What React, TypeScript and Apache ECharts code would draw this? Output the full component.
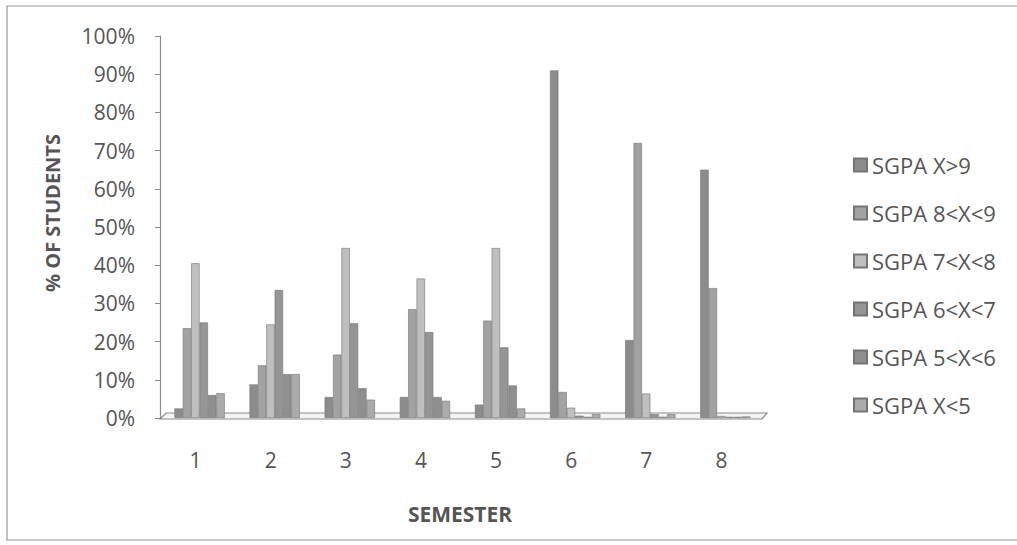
import React, { useEffect, useRef } from "react";
import * as echarts from "echarts";

const semesters = ["1", "2", "3", "4", "5", "6", "7", "8"];
const seriesNames = ["SGPA X>9", "SGPA 8<X<9", "SGPA 7<X<8", "SGPA 6<X<7", "SGPA 5<X<6", "SGPA X<5"];
const sgpaAbove9 = [2.5, 8.8, 5.5, 5.5, 3.5, 91, 20.4, 65];
const sgpa8to9 = [23.5, 13.8, 16.6, 28.5, 25.5, 6.8, 72, 34];
const sgpa7to8 = [40.5, 24.5, 44.5, 36.5, 44.5, 2.7, 6.4, 0.5];
const sgpa6to7 = [25, 33.5, 24.8, 22.5, 18.5, 0.6, 1.0, 0.3];
const sgpa5to6 = [6, 11.5, 7.8, 5.5, 8.5, 0.3, 0.3, 0.3];
const sgpaBelow5 = [6.5, 11.5, 4.8, 4.5, 2.5, 1.0, 1.0, 0.4];
const seriesColors = ["#8c8c8c", "#a2a2a2", "#bfbfbf", "#959595", "#8f8f8f", "#ababab"];

const allSeries = [sgpaAbove9, sgpa8to9, sgpa7to8, sgpa6to7, sgpa5to6, sgpaBelow5];

export default function App() {
  const ref = useRef<HTMLDivElement>(null);
  useEffect(() => {
    if (!ref.current) return;
    const chart = echarts.init(ref.current, null, { renderer: "svg" });
    const font = "'Open Sans', 'Noto Sans', sans-serif";
    chart.setOption({
      animation: false,
      backgroundColor: "#ffffff",
      textStyle: { fontFamily: font },
      grid: { left: 162, width: 601, top: 36, bottom: 127 },
      legend: {
        orient: "vertical",
        left: 848,
        top: 149,
        icon: "rect",
        itemWidth: 13,
        itemHeight: 13,
        itemGap: 26,
        data: seriesNames,
        textStyle: { fontSize: 22, lineHeight: 22, color: "#555", fontFamily: font },
      },
      xAxis: {
        type: "category",
        data: semesters,
        axisLine: { show: false },
        axisTick: { show: false },
        axisLabel: { fontSize: 21, color: "#555", margin: 31, padding: [0, 8, 0, 0], fontFamily: font },
      },
      yAxis: {
        type: "value",
        min: 0,
        max: 100,
        interval: 10,
        offset: 2,
        axisLine: { show: true, lineStyle: { color: "#8a8a8a", width: 1.2 } },
        axisTick: { show: true, length: 5, lineStyle: { color: "#8a8a8a" } },
        splitLine: { show: false },
        axisLabel: { fontSize: 21, color: "#555", margin: 25, formatter: "{value}%", fontFamily: font },
      },
      graphic: {
        elements: [
          {
            type: "rect",
            z: -10,
            shape: { x: 7, y: 6, width: 1100, height: 534 },
            style: { fill: "none", stroke: "#9a9a9a", lineWidth: 1.2 },
          },
          {
            type: "polygon",
            z: 0,
            shape: { points: [[160, 419], [762, 419], [767, 413], [166, 413]] },
            style: { fill: "#f4f4f4", stroke: "#8a8a8a", lineWidth: 1.2 },
          },
          {
            type: "text",
            x: 52,
            y: 213,
            rotation: Math.PI / 2,
            style: {
              text: "% OF STUDENTS",
              fontSize: 20,
              fontWeight: "bold",
              fill: "#555",
              align: "center",
              verticalAlign: "middle",
              fontFamily: font,
            },
          },
          {
            type: "text",
            x: 460,
            y: 514,
            style: {
              text: "SEMESTER",
              fontSize: 21,
              fontWeight: "bold",
              fill: "#555",
              align: "center",
              verticalAlign: "middle",
              fontFamily: font,
            },
          },
        ],
      },
      series: allSeries.map((vals, i) => ({
        name: seriesNames[i],
        type: "bar",
        data: vals,
        barGap: "0%",
        barCategoryGap: "33%",
        z: 5,
        itemStyle: { color: seriesColors[i], borderColor: "#747474", borderWidth: 0.6 },
      })),
    });
    return () => chart.dispose();
  }, []);
  return <div ref={ref} style={{ position: "fixed", left: 0, top: 0, width: 1017, height: 545 }} />;
}
